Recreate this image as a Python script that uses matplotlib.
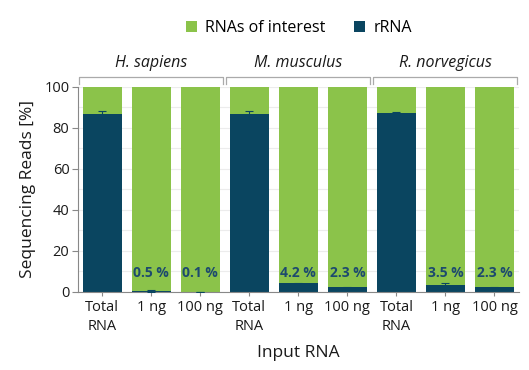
import matplotlib
matplotlib.use("Agg")
import matplotlib.pyplot as plt
import numpy as np

plt.rcParams['font.family'] = ['Open Sans', 'DejaVu Sans']

categories = ["Total\nRNA", "1 ng", "100 ng"] * 3
species = ["H. sapiens", "M. musculus", "R. norvegicus"]
rrna = [87.0, 0.5, 0.1, 87.0, 4.2, 2.3, 87.5, 3.5, 2.3]
rrna_err = [1.2, 0.3, 0.1, 1.3, 0.4, 0.3, 0.4, 1.0, 0.2]
labels = ["", "0.5 %", "0.1 %", "", "4.2 %", "2.3 %", "", "3.5 %", "2.3 %"]
interest = [100 - v for v in rrna]

green = "#8BC34A"
blue = "#0A4560"
txtblue = "#1D4A6E"

fig = plt.figure(figsize=(5.29, 3.70), dpi=100)
ax = fig.add_axes([0.147, 0.211, 0.834, 0.554])
x = np.arange(len(categories))
ax.bar(x, rrna, width=0.8, color=blue, zorder=2, label="rRNA")
ax.bar(x, interest, bottom=rrna, width=0.8, color=green, zorder=2, label="RNAs of interest")
ax.errorbar(x, rrna, yerr=rrna_err, fmt='none', ecolor=blue, elinewidth=0.8, capsize=3, capthick=0.8, zorder=3)
for xi, lab in zip(x, labels):
    if lab:
        ax.text(xi, 9, lab, ha='center', va='center', color=txtblue, fontsize=10, fontweight='bold', zorder=4)

ax.set_xlim(-0.5, 8.5)
ax.set_ylim(0, 100)
ax.set_yticks(np.arange(0, 101, 20))
ax.set_yticks(np.arange(0, 101, 10), minor=True)
ax.grid(axis='y', which='both', color='#ececec', linewidth=0.8, zorder=0)
ax.set_xticks(x)
ax.set_xticklabels(categories, fontsize=10.5, color='#1a1a1a', linespacing=1.35)
ax.tick_params(axis='y', labelsize=10.5, colors='#1a1a1a', length=4, color='#888888', pad=2)
ax.tick_params(axis='y', which='minor', length=0)
ax.tick_params(axis='x', length=3, color='#888888', pad=3)
for s in ['top', 'right']:
    ax.spines[s].set_visible(False)
for s in ['left', 'bottom']:
    ax.spines[s].set_color('#888888')
ax.set_ylabel("Sequencing Reads [%]", fontsize=12.5, color='#1a1a1a', labelpad=6)
ax.set_xlabel("Input RNA", fontsize=12.5, color='#1a1a1a', labelpad=8)

# species brackets
for i, sp in enumerate(species):
    x0 = 3 * i - 0.5 + 0.03
    x1 = 3 * i + 2.5 - 0.03
    ax.plot([x0, x0, x1, x1], [101.5, 104.8, 104.8, 101.5], color='#aaaaaa', lw=0.9,
            clip_on=False, transform=ax.transData)
    ax.text(3 * i + 1, 108, sp, ha='center', va='bottom', fontsize=11.5, style='italic', color='#1a1a1a')

handles, labs = ax.get_legend_handles_labels()
fig.legend(handles[::-1], labs[::-1], loc='center', bbox_to_anchor=(0.565, 0.925), ncol=2, frameon=False,
           fontsize=11.5, handlelength=0.7, handleheight=0.7, columnspacing=1.8, handletextpad=0.5)

fig.savefig("out.png", dpi=100)
